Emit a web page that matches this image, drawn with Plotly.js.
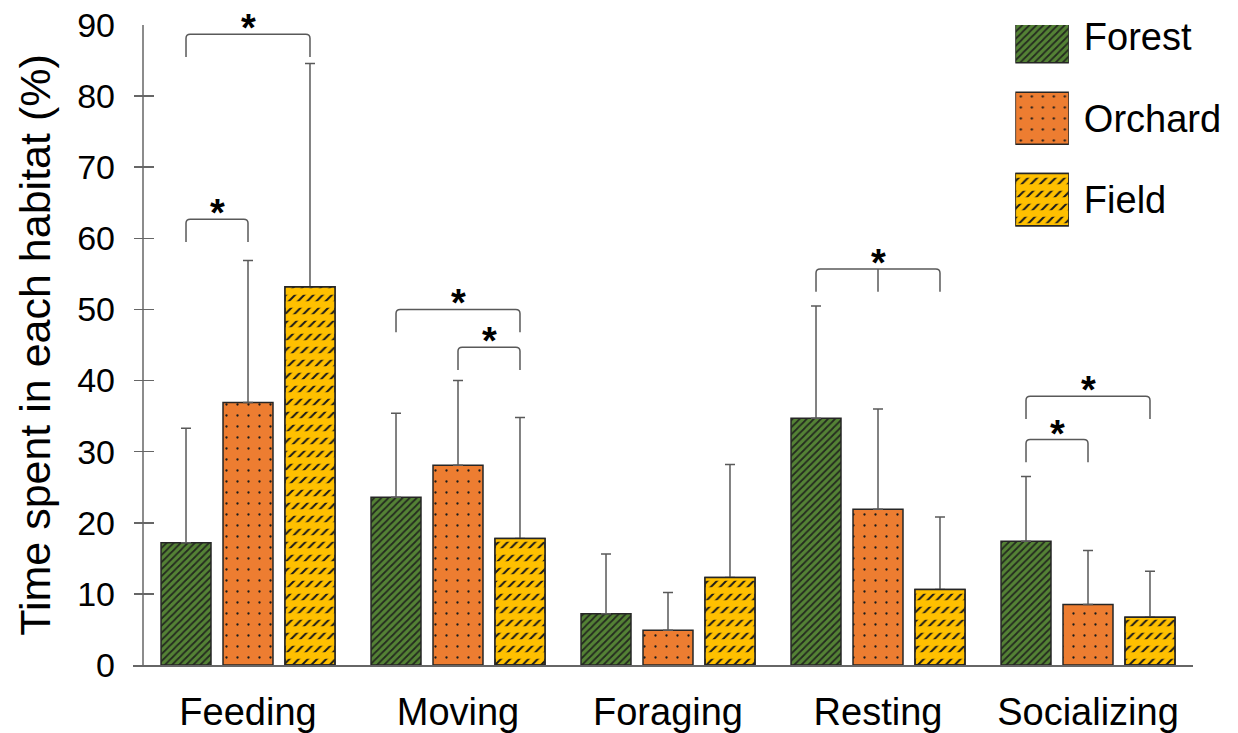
<!DOCTYPE html>
<html>
<head>
<meta charset="utf-8">
<script src="https://cdn.plot.ly/plotly-3.0.1.min.js"></script>
<style>html,body{margin:0;padding:0;background:#fff;}#chart{width:1238px;height:733px;}</style>
</head>
<body>
<div id="chart"></div>
<script>
// ---- data ----
const categories = ['Feeding', 'Moving', 'Foraging', 'Resting', 'Socializing'];
const seriesNames = ['Forest', 'Orchard', 'Field'];
const forest = [17.2, 23.6, 7.2, 34.7, 17.4];
const forestSD = [16.1, 11.8, 8.4, 15.8, 9.1];
const orchard = [36.9, 28.1, 4.9, 21.9, 8.5];
const orchardSD = [20.0, 11.9, 5.3, 14.1, 7.6];
const field = [53.2, 17.8, 12.3, 10.6, 6.7];
const fieldSD = [31.4, 17.0, 15.9, 10.2, 6.5];
const yTicks = [0, 10, 20, 30, 40, 50, 60, 70, 80, 90];
// significance brackets: category index, from-series, to-series, bracket height, middle tick
const sigCat = [0, 0, 1, 1, 3, 4, 4];
const sigFrom = [0, 0, 0, 1, 0, 0, 0];
const sigTo = [2, 1, 2, 2, 2, 1, 2];
const sigTop = [88.7, 62.7, 50.0, 44.7, 55.7, 31.7, 37.8];
const sigMid = [false, false, false, false, true, false, false];
const sigLabel = '*';

// ---- styles ----
const FONT = 'Liberation Sans, Arial, Helvetica, sans-serif';
const SLOT = 0.2952, BARW = 0.238;
const XMIN = -0.5 - 10 / 210; // plot area starts 10px left of the axis line so ticks can cross it
const AXC = '#666666';
const EDGE = '#262626';
const styles = [
  {color: '#548235', pattern: {shape: '/', size: 5, solidity: 0.35, fgcolor: '#1a1a1a', fgopacity: 0.85, bgcolor: '#548235'}},
  {color: '#ED7D31', pattern: {shape: '.', size: 11, solidity: 0.035, fgcolor: '#1a1a1a', bgcolor: '#ED7D31'}},
  {color: '#FFC000', pattern: {shape: '/', size: 6.5, solidity: 0.3, fgcolor: '#1a1a1a', bgcolor: '#FFC000'}}
];
const fieldMask = {shape: '-', size: 13, solidity: 0.5, fgcolor: '#FFC000', bgcolor: 'rgba(0,0,0,0)'};

const values = [forest, orchard, field];
const sds = [forestSD, orchardSD, fieldSD];
const zeros = categories.map(() => 0);

const traces = [];
values.forEach((vals, k) => {
  traces.push({
    type: 'bar', x: categories, y: vals, name: seriesNames[k],
    width: BARW, offset: (k - 1) * SLOT - BARW / 2,
    marker: {color: styles[k].color, pattern: styles[k].pattern, line: {color: EDGE, width: 1.5}},
    error_y: {type: 'data', symmetric: false, array: sds[k], arrayminus: zeros, color: '#595959', thickness: 1.5, width: 5},
    hoverinfo: 'skip', showlegend: false
  });
  if (k === 2) {
    traces.push({
      type: 'bar', x: categories, y: vals, name: seriesNames[k],
      width: BARW, offset: (k - 1) * SLOT - BARW / 2,
      marker: {color: 'rgba(0,0,0,0)', pattern: fieldMask, line: {color: EDGE, width: 1.5}},
      hoverinfo: 'skip', showlegend: false
    });
  }
});

// legend swatches drawn in a small auxiliary subplot
seriesNames.forEach((nm, k) => {
  traces.push({
    type: 'bar', orientation: 'h', x: [1], y: [nm], xaxis: 'x2', yaxis: 'y2',
    width: 0.64, offset: -0.32,
    marker: {color: styles[k].color, pattern: styles[k].pattern, line: {color: EDGE, width: 1.5}},
    hoverinfo: 'skip', showlegend: false
  });
  if (k === 2) {
    traces.push({
      type: 'bar', orientation: 'h', x: [1], y: [nm], xaxis: 'x2', yaxis: 'y2',
      width: 0.64, offset: -0.32,
      marker: {color: 'rgba(0,0,0,0)', pattern: fieldMask, line: {color: EDGE, width: 1.5}},
      hoverinfo: 'skip', showlegend: false
    });
  }
});

// y axis line (ticks of the free y axis cross it)
const shapes = [{type: 'line', xref: 'x', yref: 'y', x0: -0.5, x1: -0.5, y0: 0, y1: 90,
  line: {color: AXC, width: 1.5}, layer: 'above'}];
const annotations = [];
const RX = 0.02, RY = 0.56, DROP = 3.2;
sigCat.forEach((c, i) => {
  const x0 = c + (sigFrom[i] - 1) * SLOT;
  const x1 = c + (sigTo[i] - 1) * SLOT;
  const yt = sigTop[i], yb = yt - DROP;
  const p = `M ${x0},${yb} L ${x0},${yt - RY} Q ${x0},${yt} ${x0 + RX},${yt} L ${x1 - RX},${yt} Q ${x1},${yt} ${x1},${yt - RY} L ${x1},${yb}`;
  shapes.push({type: 'path', xref: 'x', yref: 'y', path: p, line: {color: '#595959', width: 1.5}, layer: 'above'});
  const xm = (x0 + x1) / 2;
  if (sigMid[i]) {
    shapes.push({type: 'path', xref: 'x', yref: 'y', path: `M ${xm},${yt} L ${xm},${yb}`, line: {color: '#595959', width: 1.5}, layer: 'above'});
  }
  annotations.push({x: xm, y: yt, xref: 'x', yref: 'y', text: '<b>' + sigLabel + '</b>', showarrow: false,
    yanchor: 'bottom', yshift: -17, font: {family: FONT, size: 38, color: '#000'}});
});

const layout = {
  width: 1238, height: 733,
  margin: {l: 133, r: 45, t: 25, b: 68},
  paper_bgcolor: '#fff', plot_bgcolor: '#fff',
  showlegend: false,
  font: {family: FONT, color: '#000'},
  xaxis: {
    type: 'category', range: [XMIN, 4.5], showline: true, linecolor: AXC, linewidth: 1.5,
    ticks: '', showgrid: false, zeroline: false, tickfont: {family: FONT, size: 38, color: '#000'},
    ticklabelstandoff: 13
  },
  yaxis: {
    range: [0, 90], tickvals: yTicks, ticks: 'inside', ticklen: 20, tickwidth: 1.5, tickcolor: AXC,
    anchor: 'free', position: 0,
    showline: false, showgrid: false, zeroline: false,
    tickfont: {family: FONT, size: 34, color: '#000'}, ticklabelstandoff: 18,
    title: {text: 'Time spent in each habitat (%)', font: {family: FONT, size: 43, color: '#000'}, standoff: 12}
  },
  xaxis2: {domain: [0.8324, 0.8829], anchor: 'y2', range: [0, 1], showline: false, showticklabels: false,
    ticks: '', showgrid: false, zeroline: false, fixedrange: true},
  yaxis2: {domain: [0.6636, 1], anchor: 'x2', type: 'category', categoryorder: 'array', categoryarray: seriesNames,
    range: [2.5, -0.145], side: 'right', showline: false, ticks: '', showgrid: false, zeroline: false,
    tickfont: {family: FONT, size: 38, color: '#000'}, ticklabelstandoff: 14, fixedrange: true},
  shapes: shapes,
  annotations: annotations
};

Plotly.newPlot('chart', traces, layout, {displayModeBar: false, staticPlot: true});
</script>
</body>
</html>
